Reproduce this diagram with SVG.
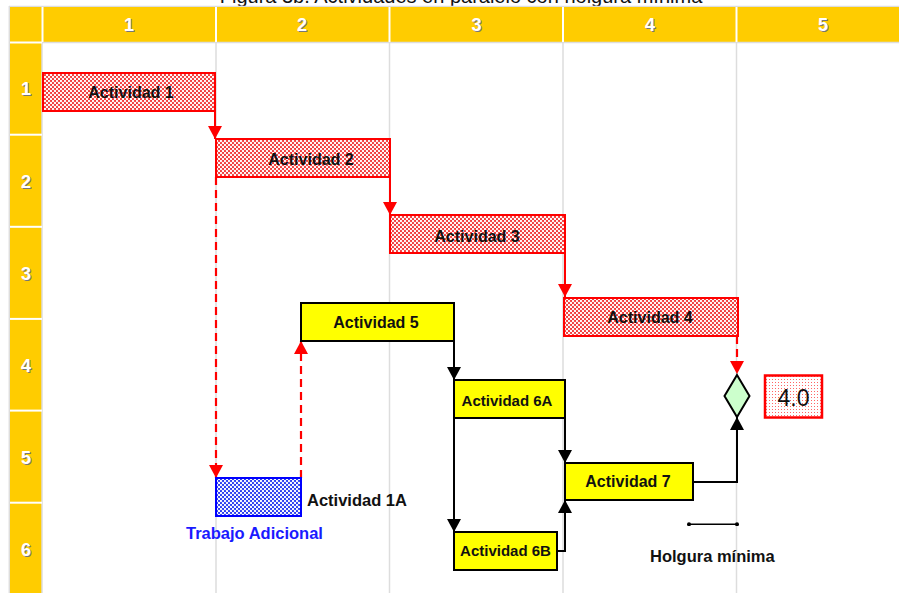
<svg xmlns="http://www.w3.org/2000/svg" width="899" height="593" viewBox="0 0 899 593">
  <style>
    .hdr { fill: #ffcc00; }
    .sep { stroke: #ffffff; stroke-width: 2; }
    .grid { stroke: #dddddd; stroke-width: 1.5; }
    .num { font-family: "Liberation Sans", Arial, sans-serif; font-weight: bold; font-size: 18px; text-anchor: middle; fill: #ffffff; }
    .numsh { font-family: "Liberation Sans", Arial, sans-serif; font-weight: bold; font-size: 18px; text-anchor: middle; fill: #777777; }
    .crit { fill: url(#redHatch); stroke: #ff0000; stroke-width: 2; }
    .task { fill: #ffff00; stroke: #000000; stroke-width: 2; }
    .extra { fill: url(#blueHatch); stroke: #0000ff; stroke-width: 2; }
    .lbl { font-family: "Liberation Sans", Arial, sans-serif; font-weight: bold; font-size: 16px; fill: #111111; text-anchor: middle; }
    .lbls { font-family: "Liberation Sans", Arial, sans-serif; font-weight: bold; font-size: 15px; fill: #111111; text-anchor: middle; }
    .free { font-family: "Liberation Sans", Arial, sans-serif; font-weight: bold; font-size: 16.5px; fill: #111111; }
    .blue { fill: #1a1aff; }
    .red { fill: none; stroke: #ff0000; stroke-width: 2; }
    .redd { fill: none; stroke: #ff0000; stroke-width: 2.2; stroke-dasharray: 8 5; }
    .blk { fill: none; stroke: #000000; stroke-width: 2; }
  </style>
  <defs>
    <pattern id="redHatch" width="4" height="4" patternUnits="userSpaceOnUse">
      <rect width="4" height="4" fill="#f23a3a"/>
      <circle cx="1" cy="1" r="1.15" fill="#ffffff"/>
      <circle cx="3" cy="3" r="1.15" fill="#ffffff"/>
    </pattern>
    <pattern id="blueHatch" width="4" height="4" patternUnits="userSpaceOnUse">
      <rect width="4" height="4" fill="#2a3cf0"/>
      <circle cx="1" cy="1" r="1.15" fill="#ffffff"/>
      <circle cx="3" cy="3" r="1.15" fill="#ffffff"/>
    </pattern>
    <pattern id="dotFill" width="3" height="3" patternUnits="userSpaceOnUse">
      <rect width="3" height="3" fill="#ffffff"/>
      <rect x="1" y="1" width="1" height="1" fill="#ff6666"/>
    </pattern>
    <marker id="arrRed" viewBox="0 0 13 14" refX="13" refY="7" markerWidth="13" markerHeight="14" markerUnits="userSpaceOnUse" orient="auto">
      <path d="M0,0 L13,7 L0,14 z" fill="#ff0000"/>
    </marker>
    <marker id="arrBlk" viewBox="0 0 13 14" refX="13" refY="7" markerWidth="13" markerHeight="14" markerUnits="userSpaceOnUse" orient="auto">
      <path d="M0,0 L13,7 L0,14 z" fill="#000000"/>
    </marker>
    <marker id="dot" viewBox="0 0 4 4" refX="2" refY="2" markerWidth="4" markerHeight="4" markerUnits="userSpaceOnUse">
      <circle cx="2" cy="2" r="2" fill="#000000"/>
    </marker>
  </defs>

  <rect width="899" height="593" fill="#ffffff"/>

  <!-- title, running off the top edge -->
  <text x="461" y="3" font-family="Liberation Sans, Arial, sans-serif" font-size="20" text-anchor="middle" fill="#111111">Figura 3b. Actividades en paralelo con holgura mínima</text>

  <!-- timetable frame -->
  <g id="grid">
    <line class="grid" x1="9" y1="6.5" x2="899" y2="6.5"/>
    <line class="grid" x1="9.3" y1="6" x2="9.3" y2="593"/>
    <rect class="hdr" x="10" y="7" width="889" height="35"/>
    <rect class="hdr" x="10" y="7" width="32" height="586"/>
    <line class="grid" x1="42" y1="42.5" x2="899" y2="42.5"/>
    <line class="grid" x1="42" y1="42" x2="42" y2="593"/>
    <line class="sep" x1="42.5" y1="7" x2="42.5" y2="42"/>
    <line class="sep" x1="216" y1="7" x2="216" y2="42"/>
    <line class="sep" x1="389.5" y1="7" x2="389.5" y2="42"/>
    <line class="sep" x1="563" y1="7" x2="563" y2="42"/>
    <line class="sep" x1="736.5" y1="7" x2="736.5" y2="42"/>
    <line class="sep" x1="10" y1="42.5" x2="42" y2="42.5"/>
    <line class="sep" x1="10" y1="134.7" x2="42" y2="134.7"/>
    <line class="sep" x1="10" y1="226.8" x2="42" y2="226.8"/>
    <line class="sep" x1="10" y1="318.9" x2="42" y2="318.9"/>
    <line class="sep" x1="10" y1="410.6" x2="42" y2="410.6"/>
    <line class="sep" x1="10" y1="502.7" x2="42" y2="502.7"/>
    <line class="grid" x1="216" y1="43" x2="216" y2="593"/>
    <line class="grid" x1="389.5" y1="43" x2="389.5" y2="593"/>
    <line class="grid" x1="563" y1="43" x2="563" y2="593"/>
    <line class="grid" x1="736.5" y1="43" x2="736.5" y2="593"/>

    <!-- column numbers -->
    <text class="numsh" x="130" y="32">1</text><text class="num" x="129" y="31">1</text>
    <text class="numsh" x="303" y="32">2</text><text class="num" x="302" y="31">2</text>
    <text class="numsh" x="477.5" y="32">3</text><text class="num" x="476.5" y="31">3</text>
    <text class="numsh" x="651" y="32">4</text><text class="num" x="650" y="31">4</text>
    <text class="numsh" x="824" y="32">5</text><text class="num" x="823" y="31">5</text>
    <!-- row numbers -->
    <text class="numsh" x="27" y="96">1</text><text class="num" x="26" y="95">1</text>
    <text class="numsh" x="27" y="189">2</text><text class="num" x="26" y="188">2</text>
    <text class="numsh" x="27" y="281">3</text><text class="num" x="26" y="280">3</text>
    <text class="numsh" x="27" y="373">4</text><text class="num" x="26" y="372">4</text>
    <text class="numsh" x="27" y="465">5</text><text class="num" x="26" y="464">5</text>
    <text class="numsh" x="27" y="557">6</text><text class="num" x="26" y="556">6</text>
  </g>

  <!-- connectors -->
  <g id="connectors">
    <path class="red" d="M215,111 V139" marker-end="url(#arrRed)"/>
    <path class="red" d="M390,177 V215" marker-end="url(#arrRed)"/>
    <path class="red" d="M565,253 V297" marker-end="url(#arrRed)"/>
    <path class="redd" d="M737,336 V374" marker-end="url(#arrRed)"/>
    <path class="redd" d="M216,177 V478" marker-end="url(#arrRed)"/>
    <path class="redd" d="M301,478 V341" marker-end="url(#arrRed)"/>
    <path class="blk" d="M454,341 V380" marker-end="url(#arrBlk)"/>
    <path class="blk" d="M454,418 V532" marker-end="url(#arrBlk)"/>
    <path class="blk" d="M565,418 V463" marker-end="url(#arrBlk)"/>
    <path class="blk" d="M557,551 H565 V500" marker-end="url(#arrBlk)"/>
    <path class="blk" d="M693,482 H737 V417" marker-end="url(#arrBlk)"/>
  </g>

  <g id="act1">
    <rect class="crit" x="43" y="73" width="172" height="38"/>
    <text class="lbl" x="131" y="98">Actividad 1</text>
  </g>
  <g id="act2">
    <rect class="crit" x="216" y="139" width="174" height="38"/>
    <text class="lbl" x="311" y="165">Actividad 2</text>
  </g>
  <g id="act3">
    <rect class="crit" x="390" y="215" width="175" height="38"/>
    <text class="lbl" x="477" y="242">Actividad 3</text>
  </g>
  <g id="act4">
    <rect class="crit" x="564" y="298" width="174" height="38"/>
    <text class="lbl" x="650" y="323">Actividad 4</text>
  </g>
  <g id="act1a">
    <rect class="extra" x="216" y="478" width="85" height="38"/>
    <text class="free" x="307" y="506">Actividad 1A</text>
    <text class="free blue" x="186" y="539">Trabajo Adicional</text>
  </g>
  <g id="act5">
    <rect class="task" x="301" y="303" width="153" height="38"/>
    <text class="lbl" x="376" y="328">Actividad 5</text>
  </g>
  <g id="act6a">
    <rect class="task" x="454" y="380" width="111" height="38"/>
    <text class="lbls" x="507" y="405.5">Actividad 6A</text>
  </g>
  <g id="act6b">
    <rect class="task" x="454" y="532" width="103" height="38"/>
    <text class="lbls" x="505.5" y="555.5">Actividad 6B</text>
  </g>
  <g id="act7">
    <rect class="task" x="565" y="463" width="128" height="37"/>
    <text class="lbl" x="628" y="487">Actividad 7</text>
  </g>
  <g id="milestone">
    <path d="M737,375 L749.5,396 L737,417 L724.5,396 z" fill="#ccffcc" stroke="#000000" stroke-width="2"/>
  </g>
  <g id="result">
    <rect x="765" y="375.5" width="57" height="42" fill="url(#dotFill)" stroke="#ff0000" stroke-width="2.5"/>
    <text x="793.5" y="406" font-family="Liberation Sans, Arial, sans-serif" font-size="23" text-anchor="middle" fill="#111111">4.0</text>
  </g>
  <g id="slack">
    <path d="M689,524.3 H737" stroke="#000000" stroke-width="1.5" marker-start="url(#dot)" marker-end="url(#dot)"/>
    <text class="free" x="650" y="562">Holgura mínima</text>
  </g>
</svg>
